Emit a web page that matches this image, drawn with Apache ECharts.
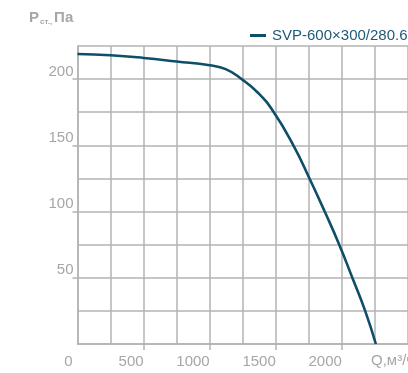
<!DOCTYPE html>
<html>
<head>
<meta charset="utf-8">
<script src="https://cdn.jsdelivr.net/npm/echarts@6/dist/echarts.min.js"></script>
<style>
  html, body { margin: 0; padding: 0; background: #fff; }
  #chart { width: 408px; height: 373px; }
</style>
</head>
<body>
<div id="chart"></div>
<script>
// Fan performance curve: static pressure vs. air flow
const seriesName = 'SVP-600×300/280.6E';
const flow =     [0,   250, 500, 750,   1000,  1121,  1242, 1367,  1485, 1633, 1755, 1870, 1980, 2079, 2176, 2257];
const pressure = [219, 218, 216, 213.3, 210.4, 207.5, 200,  189.5, 175,  150,  125,  100,  75,   50,   25,   0];
const xTickLabels = [0, 500, 1000, 1500, 2000];
const yTickLabels = [50, 100, 150, 200];

const gridColor = '#b3b3b3';
const textColor = '#a6a6a6';
const lineColor = '#0f4e69';
const font = 'Liberation Sans, Arial, sans-serif';

const chart = echarts.init(document.getElementById('chart'), null, { renderer: 'canvas' });
chart.setOption({
  animation: false,
  backgroundColor: '#fff',
  textStyle: { fontFamily: font },
  title: [
    {
      text: '{p|P}{s|ст.,}{p|Па}',
      left: 24, top: 5,
      textStyle: {
        rich: {
          p: { fontSize: 15, color: textColor, fontFamily: font },
          s: { fontSize: 8, color: textColor, fontFamily: font, verticalAlign: 'bottom', padding: [8, 2, 0, 1] }
        }
      }
    },
    {
      text: 'Q,м³/ч',
      left: 366, top: 348,
      textStyle: { fontSize: 15, fontWeight: 'normal', color: textColor, fontFamily: font }
    }
  ],
  legend: {
    left: 245, top: 23,
    icon: 'rect',
    itemWidth: 16, itemHeight: 3, itemGap: 10,
    textStyle: { fontSize: 15, color: '#1d5a78', fontFamily: font, padding: [0, 0, 0, 1] },
    data: [{ name: seriesName }]
  },
  grid: { left: 77.5, top: 46, width: 340, height: 298 },
  xAxis: [
    {
      // grid lines every 250
      type: 'value', min: 0, max: 2500, interval: 250,
      axisLine: { show: true, lineStyle: { color: gridColor, width: 1.5 } },
      axisTick: { show: false },
      axisLabel: { show: false },
      splitLine: { show: true, lineStyle: { color: gridColor, width: 1.5 } }
    },
    {
      // labelled ticks every 500
      type: 'value', min: 0, max: 2500, interval: 500, position: 'bottom',
      axisLine: { show: false },
      axisTick: { show: true, length: 6, customValues: [500, 1000, 1500, 2000], lineStyle: { color: gridColor, width: 1.5 } },
      axisLabel: {
        customValues: xTickLabels,
        color: textColor, fontSize: 15, margin: 10, align: 'right',
        fontFamily: font,
        formatter: v => v === 0 ? '{z|0}' : String(v),
        rich: { z: { fontSize: 15, color: textColor, fontFamily: font, padding: [0, 5, 0, 0] } }
      },
      splitLine: { show: false }
    }
  ],
  yAxis: [
    {
      type: 'value', min: 0, max: 225, interval: 25,
      axisLine: { show: true, lineStyle: { color: gridColor, width: 1.5 } },
      axisTick: { show: false },
      axisLabel: { show: false },
      splitLine: { show: true, lineStyle: { color: gridColor, width: 1.5 } }
    },
    {
      type: 'value', min: 0, max: 225, interval: 25, position: 'left',
      axisLine: { show: false },
      axisTick: { show: true, length: 5, customValues: yTickLabels, lineStyle: { color: gridColor, width: 1.5 } },
      axisLabel: {
        customValues: yTickLabels,
        color: textColor, fontSize: 15, margin: 4, verticalAlign: 'bottom',
        fontFamily: font
      },
      splitLine: { show: false }
    }
  ],
  series: [{
    name: seriesName,
    type: 'line',
    smooth: 0.5,
    symbol: 'none',
    data: flow.map((q, i) => [q, pressure[i]]),
    lineStyle: { color: lineColor, width: 2.6 },
    itemStyle: { color: lineColor }
  }]
});
</script>
</body>
</html>
